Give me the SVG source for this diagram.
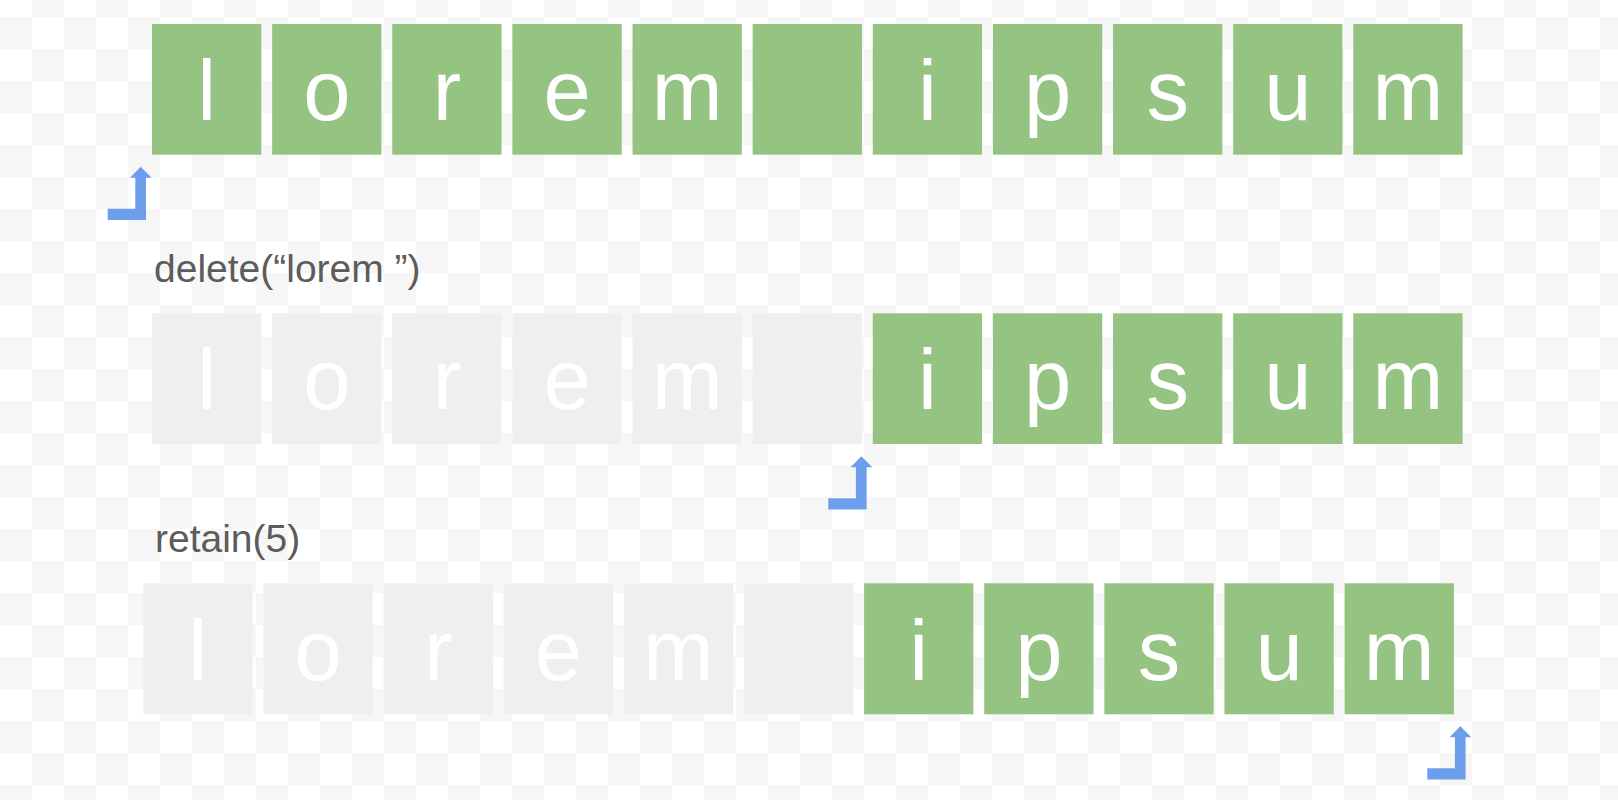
<svg xmlns="http://www.w3.org/2000/svg" width="1618" height="800" viewBox="0 0 1618 800">
  <defs>
    <pattern id="checker" patternUnits="userSpaceOnUse" x="0" y="17" width="64" height="64">
      <rect x="0" y="0" width="64" height="64" fill="#ffffff"/>
      <rect x="0" y="0" width="32" height="32" fill="#f6f6f6"/>
      <rect x="32" y="32" width="32" height="32" fill="#f6f6f6"/>
    </pattern>
    <polygon id="cursor" points="107.7,208.7 135.3,208.7 135.3,177.7 130,177.7 140.7,166.7 151.7,177.7 146,177.7 146,220 107.7,220"/>
    <style>
      .g rect { fill: #95c381; }
      .d rect { fill: #efefef; }
      .cell text { fill: #ffffff; font-family: "Liberation Sans", Arial, sans-serif; font-size: 85px; text-anchor: middle; }
      .label { fill: #5c5c5c; font-family: "Liberation Sans", Arial, sans-serif; font-size: 39px; }
      .cur { fill: #6d9eeb; }
    </style>
  </defs>
  <rect x="0" y="0" width="1618" height="800" fill="url(#checker)"/>

  <!-- Row 1 -->
  <g id="row1">
    <g id="r1c0" class="cell g"><rect x="152" y="24" width="109.3" height="130.7"/><text x="206.65" y="120">l</text></g>
    <g id="r1c1" class="cell g"><rect x="272.13" y="24" width="109.3" height="130.7"/><text x="326.78" y="120">o</text></g>
    <g id="r1c2" class="cell g"><rect x="392.26" y="24" width="109.3" height="130.7"/><text x="446.91" y="120">r</text></g>
    <g id="r1c3" class="cell g"><rect x="512.39" y="24" width="109.3" height="130.7"/><text x="567.04" y="120">e</text></g>
    <g id="r1c4" class="cell g"><rect x="632.52" y="24" width="109.3" height="130.7"/><text x="687.17" y="120">m</text></g>
    <g id="r1c5" class="cell g"><rect x="752.65" y="24" width="109.3" height="130.7"/></g>
    <g id="r1c6" class="cell g"><rect x="872.78" y="24" width="109.3" height="130.7"/><text x="927.43" y="120">i</text></g>
    <g id="r1c7" class="cell g"><rect x="992.91" y="24" width="109.3" height="130.7"/><text x="1047.56" y="120">p</text></g>
    <g id="r1c8" class="cell g"><rect x="1113.04" y="24" width="109.3" height="130.7"/><text x="1167.69" y="120">s</text></g>
    <g id="r1c9" class="cell g"><rect x="1233.17" y="24" width="109.3" height="130.7"/><text x="1287.82" y="120">u</text></g>
    <g id="r1c10" class="cell g"><rect x="1353.3" y="24" width="109.3" height="130.7"/><text x="1407.95" y="120">m</text></g>
  </g>

  <text id="label-delete" class="label" x="154" y="282">delete(“lorem ”)</text>

  <!-- Row 2 -->
  <g id="row2">
    <g id="r2c0" class="cell d"><rect x="152" y="313.3" width="109.3" height="130.7"/><text x="206.65" y="409.3">l</text></g>
    <g id="r2c1" class="cell d"><rect x="272.13" y="313.3" width="109.3" height="130.7"/><text x="326.78" y="409.3">o</text></g>
    <g id="r2c2" class="cell d"><rect x="392.26" y="313.3" width="109.3" height="130.7"/><text x="446.91" y="409.3">r</text></g>
    <g id="r2c3" class="cell d"><rect x="512.39" y="313.3" width="109.3" height="130.7"/><text x="567.04" y="409.3">e</text></g>
    <g id="r2c4" class="cell d"><rect x="632.52" y="313.3" width="109.3" height="130.7"/><text x="687.17" y="409.3">m</text></g>
    <g id="r2c5" class="cell d"><rect x="752.65" y="313.3" width="109.3" height="130.7"/></g>
    <g id="r2c6" class="cell g"><rect x="872.78" y="313.3" width="109.3" height="130.7"/><text x="927.43" y="409.3">i</text></g>
    <g id="r2c7" class="cell g"><rect x="992.91" y="313.3" width="109.3" height="130.7"/><text x="1047.56" y="409.3">p</text></g>
    <g id="r2c8" class="cell g"><rect x="1113.04" y="313.3" width="109.3" height="130.7"/><text x="1167.69" y="409.3">s</text></g>
    <g id="r2c9" class="cell g"><rect x="1233.17" y="313.3" width="109.3" height="130.7"/><text x="1287.82" y="409.3">u</text></g>
    <g id="r2c10" class="cell g"><rect x="1353.3" y="313.3" width="109.3" height="130.7"/><text x="1407.95" y="409.3">m</text></g>
  </g>

  <text id="label-retain" class="label" x="155" y="552.3">retain(5)</text>

  <!-- Row 3 -->
  <g id="row3">
    <g id="r3c0" class="cell d"><rect x="143.3" y="583.3" width="109.3" height="131"/><text x="197.95" y="679.8">l</text></g>
    <g id="r3c1" class="cell d"><rect x="263.43" y="583.3" width="109.3" height="131"/><text x="318.08" y="679.8">o</text></g>
    <g id="r3c2" class="cell d"><rect x="383.56" y="583.3" width="109.3" height="131"/><text x="438.21" y="679.8">r</text></g>
    <g id="r3c3" class="cell d"><rect x="503.69" y="583.3" width="109.3" height="131"/><text x="558.34" y="679.8">e</text></g>
    <g id="r3c4" class="cell d"><rect x="623.82" y="583.3" width="109.3" height="131"/><text x="678.47" y="679.8">m</text></g>
    <g id="r3c5" class="cell d"><rect x="743.95" y="583.3" width="109.3" height="131"/></g>
    <g id="r3c6" class="cell g"><rect x="864.08" y="583.3" width="109.3" height="131"/><text x="918.73" y="679.8">i</text></g>
    <g id="r3c7" class="cell g"><rect x="984.21" y="583.3" width="109.3" height="131"/><text x="1038.86" y="679.8">p</text></g>
    <g id="r3c8" class="cell g"><rect x="1104.34" y="583.3" width="109.3" height="131"/><text x="1158.99" y="679.8">s</text></g>
    <g id="r3c9" class="cell g"><rect x="1224.47" y="583.3" width="109.3" height="131"/><text x="1279.12" y="679.8">u</text></g>
    <g id="r3c10" class="cell g"><rect x="1344.6" y="583.3" width="109.3" height="131"/><text x="1399.25" y="679.8">m</text></g>
  </g>

  <!-- Cursors -->
  <g id="cursors">
    <use id="cursor1" href="#cursor" class="cur"/>
    <use id="cursor2" href="#cursor" class="cur" transform="translate(720.6,289.6)"/>
    <use id="cursor3" href="#cursor" class="cur" transform="translate(1319.6,559.6)"/>
  </g>
</svg>
